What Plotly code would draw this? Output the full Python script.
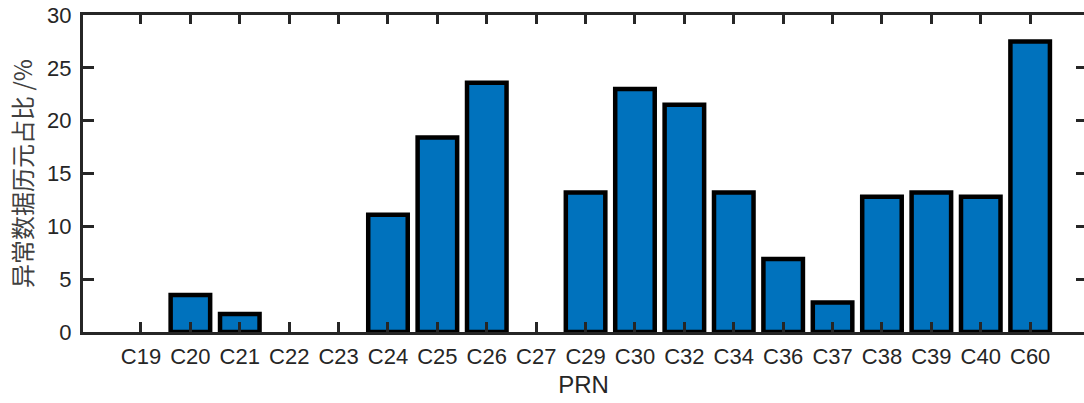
import plotly.graph_objects as go

categories = ["C19", "C20", "C21", "C22", "C23", "C24", "C25", "C26", "C27", "C29",
              "C30", "C32", "C34", "C36", "C37", "C38", "C39", "C40", "C60"]
values = [0, 3.5, 1.7, 0, 0, 11.1, 18.4, 23.6, 0, 13.2,
          23.0, 21.5, 13.2, 6.9, 2.8, 12.8, 13.2, 12.8, 27.5]
y_ticks = [0, 5, 10, 15, 20, 25, 30]

x_title = "PRN"
y_title = "异常数据历元占比 /%"

axis_color = "#262626"
font_family = "Liberation Sans, Arial, Noto Sans CJK SC, sans-serif"
x_range = [-1.174, 19.09]

edge_widths = [4.5 if v > 0 else 0 for v in values]

fig = go.Figure()
fig.add_trace(go.Bar(
    x=categories, y=values, width=0.8,
    marker=dict(color="#0072BD", line=dict(color="#000000", width=edge_widths)),
    showlegend=False,
))
# invisible trace to drive the extra tick axes (right side, bottom inner ticks)
fig.add_trace(go.Scatter(x=categories, y=values, xaxis="x2", yaxis="y2", mode="markers",
                         marker=dict(opacity=0), showlegend=False, hoverinfo="skip"))

fig.update_layout(
    width=1084, height=403,
    margin=dict(l=83, r=0, t=15, b=71),
    paper_bgcolor="white", plot_bgcolor="white",
    font=dict(family=font_family, size=22, color=axis_color),
    xaxis=dict(
        type="category", categoryorder="array", categoryarray=categories,
        range=x_range,
        showline=True, linecolor=axis_color, linewidth=3, mirror="ticks",
        ticks="inside", ticklen=9, tickwidth=3, tickcolor=axis_color,
        showgrid=False, zeroline=False,
        ticklabelstandoff=3,
        title=dict(text=x_title, font=dict(size=24, color=axis_color), standoff=8),
    ),
    xaxis2=dict(
        type="category", categoryorder="array", categoryarray=categories,
        range=x_range, overlaying="x", side="bottom", anchor="y2",
        showticklabels=False, showline=False, showgrid=False, zeroline=False,
        ticks="inside", ticklen=10, tickwidth=3, tickcolor=axis_color,
    ),
    yaxis=dict(
        range=[0, 30], tickvals=y_ticks, ticktext=[str(v) for v in y_ticks],
        showline=True, linecolor=axis_color, linewidth=3, mirror=False,
        ticks="inside", ticklen=11, tickwidth=3, tickcolor=axis_color,
        showgrid=False, zeroline=False,
        ticklabelstandoff=4,
        title=dict(text=y_title, font=dict(size=24, color="#404040",
                   family="Noto Sans CJK SC, Liberation Sans, sans-serif"), standoff=8),
    ),
    yaxis2=dict(
        overlaying="y", side="right", range=[0, 30], tickvals=y_ticks, anchor="x2",
        showticklabels=False, showline=False, showgrid=False, zeroline=False,
        ticks="inside", ticklen=8, tickwidth=3, tickcolor=axis_color,
    ),
)

fig.write_html("out.html")
